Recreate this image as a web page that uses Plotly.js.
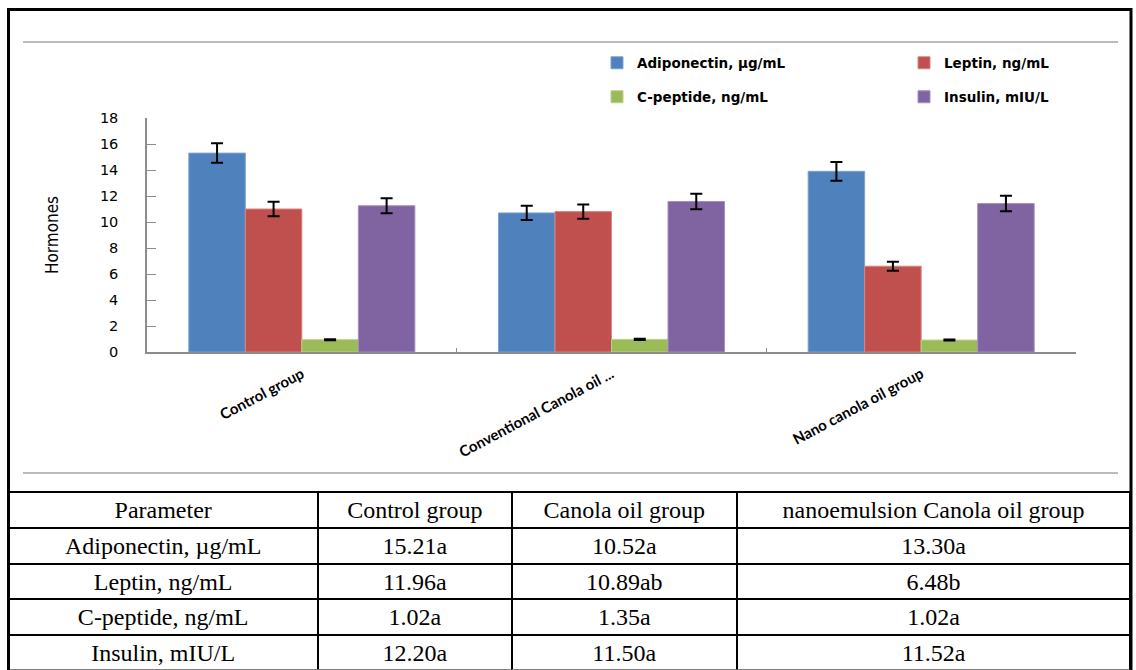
<!DOCTYPE html>
<html>
<head>
<meta charset="utf-8">
<script src="https://cdn.plot.ly/plotly-3.0.1.min.js"></script>
<style>
  html, body { margin: 0; padding: 0; background: #ffffff; }
  #chart { width: 1136px; height: 670px; }
</style>
</head>
<body>
<div id="chart"></div>
<script>
// ---- Chart data ----
const groups = ["Control group", "Conventional Canola oil ...", "Nano canola oil group"];

const adiponectin    = [15.3, 10.7, 13.9];
const adiponectinErr = [0.75, 0.55, 0.72];
const leptin         = [11.0, 10.8, 6.6];
const leptinErr      = [0.56, 0.55, 0.35];
const cpeptide       = [0.95, 0.97, 0.92];
const cpeptideErr    = [0.04, 0.04, 0.04];
const insulin        = [11.25, 11.58, 11.42];
const insulinErr     = [0.58, 0.60, 0.60];

const seriesNames = ["Adiponectin, µg/mL", "Leptin, ng/mL", "C-peptide, ng/mL", "Insulin, mIU/L"];
const yTicks = [0, 2, 4, 6, 8, 10, 12, 14, 16, 18];

// ---- Table data ----
const tableHeader = ["Parameter", "Control group", "Canola oil group", "nanoemulsion Canola oil group"];
const tableParams  = ["Adiponectin, µg/mL", "Leptin, ng/mL", "C-peptide, ng/mL", "Insulin, mIU/L"];
const tableControl = ["15.21a", "11.96a", "1.02a", "12.20a"];
const tableCanola  = ["10.52a", "10.89ab", "1.35a", "11.50a"];
const tableNano    = ["13.30a", "6.48b", "1.02a", "11.52a"];

// ---- Build figure ----
const W = 1136, H = 670;
const px = v => v / W;
const py = v => 1 - v / H;

const colors = ["#4F81BD", "#C0504D", "#9BBB59", "#8064A2"];
const edge = ["#7FA3D3", "#D98583", "#B9D28A", "#A58FC2"];
const vals = [adiponectin, leptin, cpeptide, insulin];
const errs = [adiponectinErr, leptinErr, cpeptideErr, insulinErr];
const legendIds = ["legend", "legend2", "legend3", "legend4"];

const traces = vals.map((v, i) => ({
  type: "bar",
  name: seriesNames[i],
  x: groups,
  y: v,
  legend: legendIds[i],
  marker: { color: colors[i], line: { color: edge[i], width: 1 } },
  error_y: { type: "data", array: errs[i], visible: true, color: "#000000", thickness: 2, width: 6 },
  hoverinfo: "x+y+name"
}));

traces.push({
  type: "table",
  domain: { x: [px(8.5), px(1131)], y: [0, py(491.5)] },
  columnwidth: [309.5, 194, 225, 394],
  header: {
    values: tableHeader,
    align: "center",
    height: 36.5,
    fill: { color: "#ffffff" },
    line: { color: "#000000", width: 2 },
    font: { family: "Liberation Serif, Times New Roman, serif", size: 24, color: "#000000" }
  },
  cells: {
    values: [tableParams, tableControl, tableCanola, tableNano],
    align: "center",
    height: 35.5,
    fill: { color: "#ffffff" },
    line: { color: "#000000", width: 2 },
    font: { family: "Liberation Serif, Times New Roman, serif", size: 24, color: "#000000" }
  }
});

const legendFont = { family: "DejaVu Sans, Verdana, sans-serif", size: 13.5, color: "#000000", weight: "bold" };
function mkLegend(x, y) {
  return {
    orientation: "v",
    x: px(x), xanchor: "left",
    y: py(y), yanchor: "middle",
    bgcolor: "rgba(0,0,0,0)",
    borderwidth: 0,
    font: legendFont
  };
}

const layout = {
  width: W,
  height: H,
  autosize: false,
  margin: { l: 0, r: 0, t: 0, b: 0, pad: 0 },
  paper_bgcolor: "#ffffff",
  plot_bgcolor: "#ffffff",
  barmode: "group",
  bargap: 0.27,
  bargroupgap: 0,
  showlegend: true,
  xaxis: {
    domain: [px(147), px(1076)],
    type: "category",
    showline: true,
    linecolor: "#8C8C8C",
    linewidth: 1.5,
    ticks: "inside",
    ticklen: 4,
    tickcolor: "#8C8C8C",
    tickson: "boundaries",
    tickangle: -28,
    ticklabelstandoff: 6,
    showgrid: false,
    zeroline: false,
    automargin: false,
    tickfont: { family: "Lato, Open Sans, sans-serif", size: 15, color: "#000000", weight: "bold" }
  },
  yaxis: {
    domain: [1 - 352 / H, 1 - 118 / H],
    range: [0, 18],
    tickvals: yTicks,
    showline: true,
    linecolor: "#8C8C8C",
    linewidth: 1.5,
    ticks: "inside",
    ticklen: 9,
    tickcolor: "#8C8C8C",
    ticklabelstandoff: 24,
    showgrid: false,
    zeroline: false,
    automargin: false,
    tickfont: { family: "DejaVu Sans, Verdana, sans-serif", size: 14.5, color: "#000000" },
    title: {
      text: "Hormones",
      standoff: 37,
      font: { family: "Liberation Sans Narrow, DejaVu Sans Condensed, Liberation Sans, sans-serif", size: 17, color: "#000000" }
    }
  },
  legend: mkLegend(597, 63),
  legend2: mkLegend(904, 63),
  legend3: mkLegend(597, 97),
  legend4: mkLegend(904, 97),
  shapes: [
    { type: "rect", xref: "paper", yref: "paper", x0: px(8.5), x1: px(1131), y0: py(9.5), y1: py(700),
      line: { color: "#000000", width: 3 }, fillcolor: "rgba(0,0,0,0)", layer: "above" },
    { type: "line", xref: "paper", yref: "paper", x0: px(23), x1: px(1118), y0: py(42), y1: py(42),
      line: { color: "#A6A6A6", width: 1.5 } },
    { type: "line", xref: "paper", yref: "paper", x0: px(23), x1: px(1118), y0: py(473), y1: py(473),
      line: { color: "#A6A6A6", width: 1.5 } }
  ]
};

Plotly.newPlot("chart", traces, layout, { displayModeBar: false, staticPlot: false });
</script>
</body>
</html>
